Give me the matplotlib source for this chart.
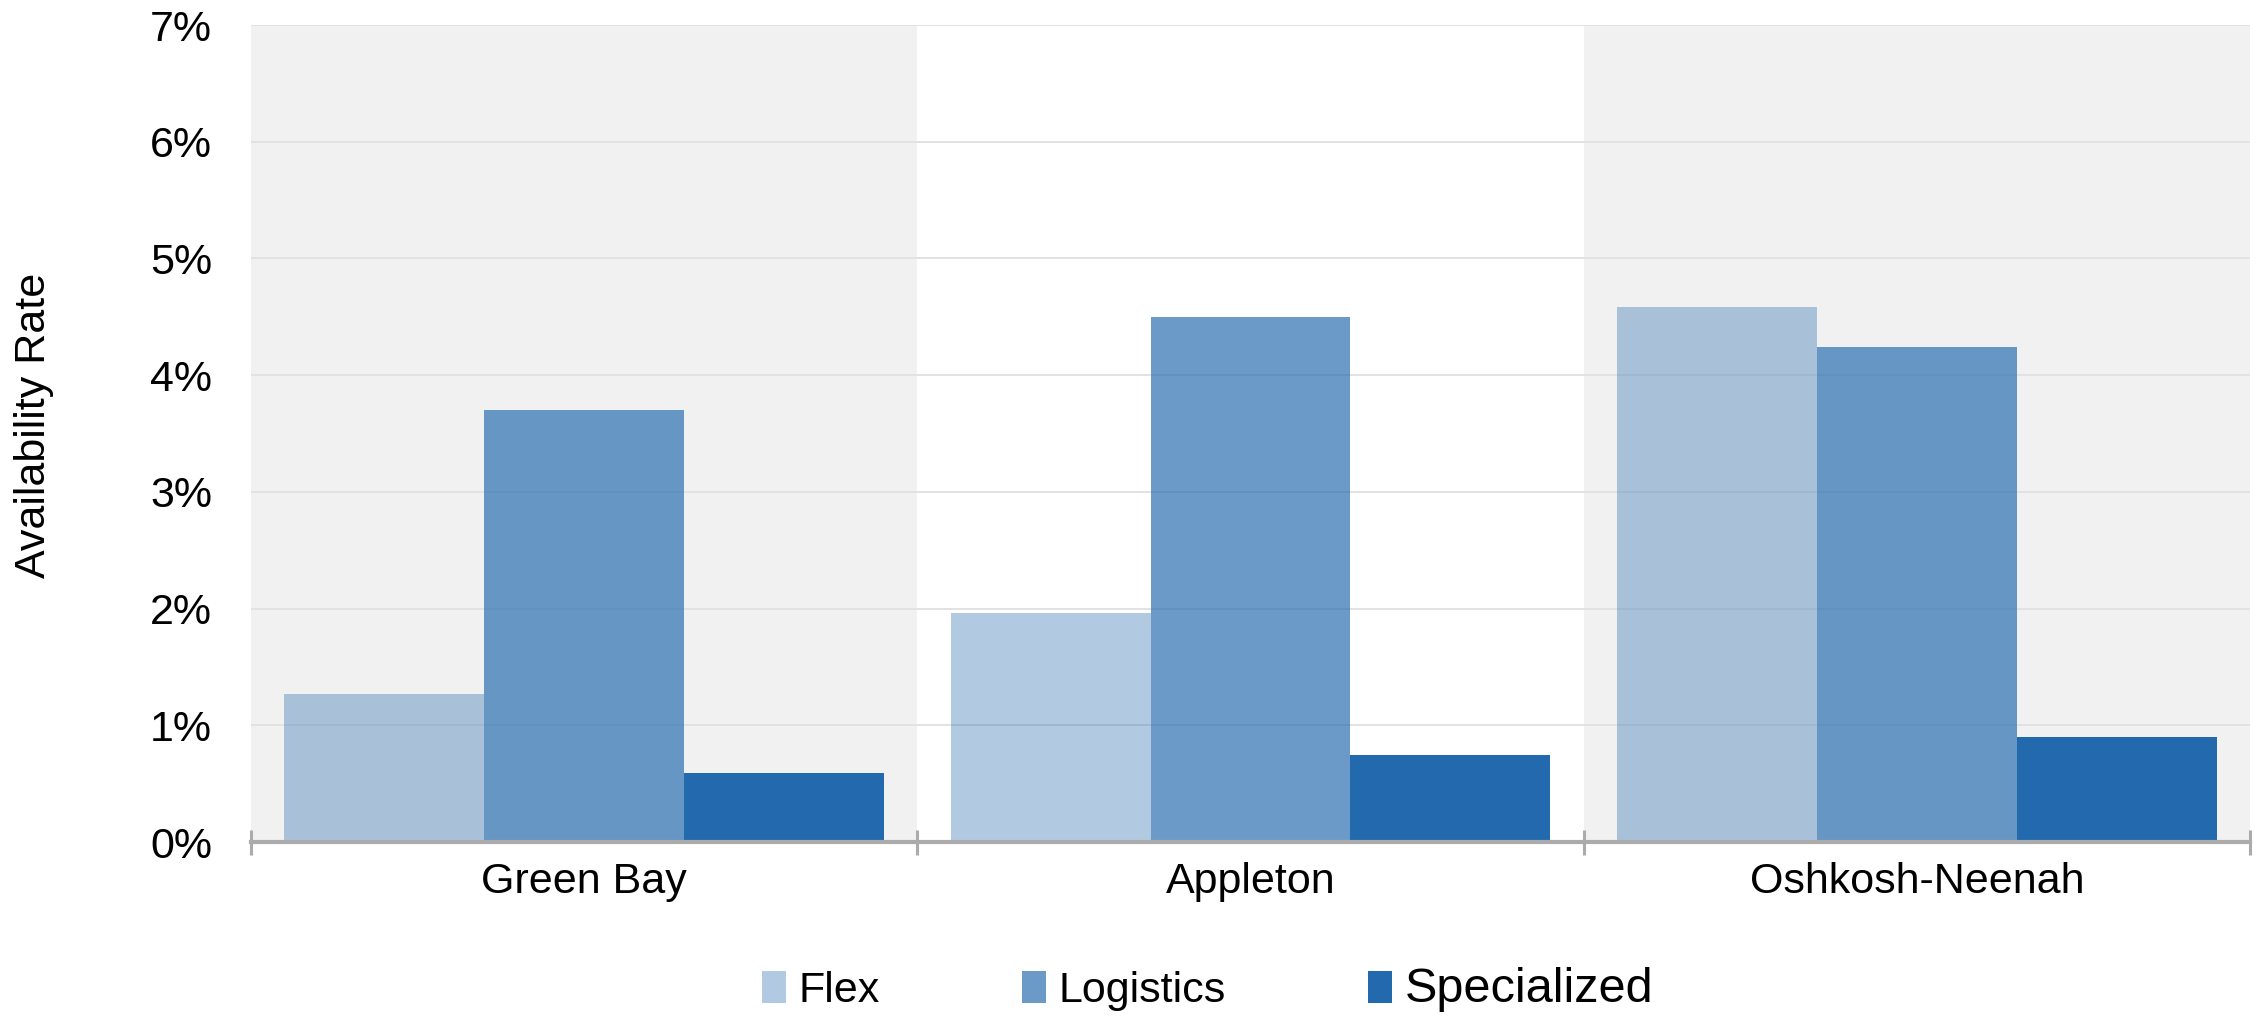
import matplotlib
matplotlib.use("Agg")
import matplotlib.pyplot as plt
import numpy as np

plt.rcParams['font.family'] = ['Liberation Sans', 'DejaVu Sans']

markets = ["Green Bay", "Appleton", "Oshkosh-Neenah"]
series = ["Flex", "Logistics", "Specialized"]
flex = [1.27, 1.96, 4.58]
logistics = [3.70, 4.50, 4.24]
specialized = [0.59, 0.75, 0.90]
y_ticks = [0, 1, 2, 3, 4, 5, 6, 7]
y_tick_labels = ["0%", "1%", "2%", "3%", "4%", "5%", "6%", "7%"]

base_color = "#2269ad"
alphas = [0.35, 0.67, 1.0]
values = [flex, logistics, specialized]

fig = plt.figure(figsize=(22.62, 10.17), dpi=100)
ax = fig.add_axes([0.111, 0.172, 0.9947 - 0.111, 0.9754 - 0.172])

x = np.arange(len(markets))
width = 0.3

# alternating shaded bands behind each market group
for i in range(len(markets)):
    if i % 2 == 0:
        ax.axvspan(i - 0.5, i + 0.5, color="#f1f1f1", zorder=0, lw=0)

# horizontal gridlines
for t in y_ticks[1:]:
    ax.axhline(t, color="#e2e2e2", lw=1.4, zorder=1)

handles = []
for k, (name, vals, a) in enumerate(zip(series, values, alphas)):
    b = ax.bar(x + (k - 1) * width, vals, width, color=base_color, alpha=a,
               label=name, zorder=2, linewidth=0)
    handles.append(b)

ax.set_xlim(-0.5, len(markets) - 0.5)
ax.set_ylim(0, 7)

ax.set_yticks(y_ticks)
ax.set_yticklabels(y_tick_labels, fontsize=31)
ax.tick_params(axis="y", length=0, pad=28)

# boundary ticks between groups, labels centred on groups
ax.set_xticks(np.arange(len(markets) + 1) - 0.5)
ax.set_xticklabels([])
ax.set_xticks(x, minor=True)
ax.set_xticklabels(markets, minor=True, fontsize=31)
ax.tick_params(axis="x", which="major", direction="inout", length=18,
               width=2.2, color="#ababab")
ax.tick_params(axis="x", which="minor", length=0, pad=14)

for s in ["top", "left", "right"]:
    ax.spines[s].set_visible(False)
ax.spines["bottom"].set_color("#ababab")
ax.spines["bottom"].set_linewidth(3)
ax.spines["bottom"].set_zorder(3)

ax.set_ylabel("Availability Rate", fontsize=31)
ax.yaxis.set_label_coords(-0.0985, 0.51)

leg = fig.legend(handles, series, loc="center", ncol=3,
                 bbox_to_anchor=(0.534, 0.027), frameon=False,
                 fontsize=31, handlelength=0.55, handleheight=0.75,
                 handletextpad=0.3, columnspacing=3.3)
leg.get_texts()[2].set_fontsize(35)

fig.savefig("out.png", dpi=100)
